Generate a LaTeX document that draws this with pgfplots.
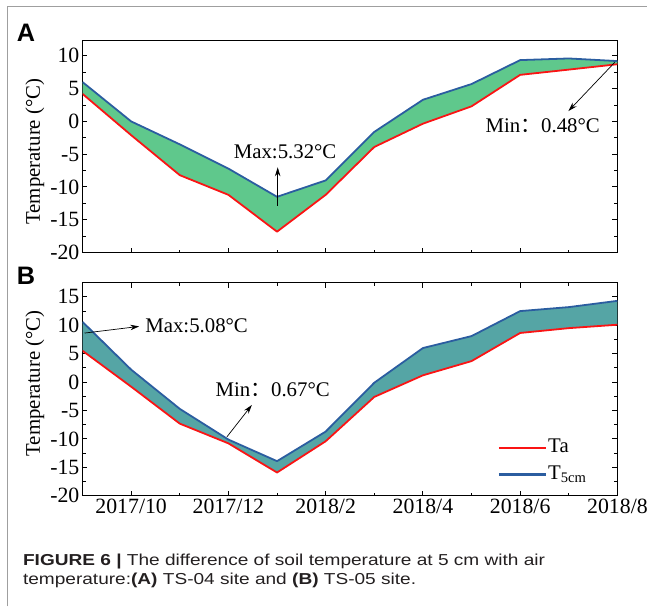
\documentclass[border=0pt]{standalone}
\usepackage{fontspec}
\setmainfont{Liberation Serif}
\newfontfamily\capfont{Liberation Sans}
\newfontfamily\cjk{Noto Sans CJK SC}
\usepackage{graphicx}
\usepackage{pgfplots}
\usepackage{pgfplotstable}
\pgfplotsset{compat=1.18}
\usepgfplotslibrary{fillbetween}
\usetikzlibrary{arrows.meta}

\definecolor{tred}{RGB}{250,20,20}
\definecolor{tblue}{RGB}{43,93,160}
\definecolor{fillA}{RGB}{95,200,140}
\definecolor{fillB}{RGB}{85,165,165}
\definecolor{capcol}{RGB}{35,31,32}

\pgfplotstableread{
x a t
0 4.2 6.0
1 -2.1 0.0
2 -8.2 -3.5
3 -11.2 -7.2
4 -16.82 -11.5
5 -11.2 -9.0
6 -3.9 -1.6
7 -0.35 3.3
8 2.3 5.7
9 7.1 9.35
10 7.9 9.6
11 8.72 9.2
}\dataA

\pgfplotstableread{
x a t
0 5.52 10.6
1 -0.8 2.2
2 -7.3 -4.7
3 -10.77 -10.1
4 -15.9 -13.9
5 -10.4 -8.7
6 -2.6 -0.1
7 1.2 6.0
8 3.7 8.1
9 8.65 12.5
10 9.5 13.2
11 10.1 14.3
}\dataB

\pgfplotsset{myaxis/.style={
  scale only axis, width=538bp, xmin=0, xmax=11,
  xtick={1,3,5,7,9,11}, minor xtick={0,2,4,6,8,10},
  minor y tick num=1,
  tick align=inside,
  major tick length=5bp, minor tick length=3bp,
  axis line style={line width=1.3bp},
  every tick/.style={black, line width=1bp},
  tick label style={font=\fontsize{22}{24}\selectfont},
  /pgf/number format/assume math mode=true,
  ylabel={Temperature (°C)},
  ylabel style={font=\fontsize{21}{24}\selectfont, at={(axis description cs:0,0.5)}, anchor=center, yshift=48bp},
  yticklabel style={inner sep=0pt, xshift=-3bp},
  line join=round,
}}

\newsavebox\capone
\newsavebox\captwo

\begin{document}
\sbox\capone{\capfont\fontsize{16}{19}\selectfont\color{capcol}\textbf{FIGURE 6 |} The difference of soil temperature at 5 cm with air}%
\sbox\captwo{\capfont\fontsize{16}{19}\selectfont\color{capcol}temperature:\textbf{(A)} TS-04 site and \textbf{(B)} TS-05 site.}%
\pgfmathsetmacro\capscale{526.97/\the\wd\capone}%
\begin{tikzpicture}
\draw[gray!75, line width=1.2bp] (7.5bp,0) -- (7.5bp,603.5bp) -- (651bp,603.5bp);

% Panel A
\begin{axis}[myaxis, at={(83bp,356bp)}, anchor=south west, height=213bp,
  ymin=-20, ymax=12.3, ytick={-20,-15,...,10}, xticklabels={},
  xtick pos=lower, ylabel style={xshift=-5bp}]
\addplot[name path=T, draw=none, forget plot] table[x=x,y=t]{\dataA};
\addplot[name path=A, draw=none, forget plot] table[x=x,y=a]{\dataA};
\addplot[fill=fillA, draw=none, forget plot] fill between[of=T and A];
\addplot[tred, line width=1.8bp, forget plot] table[x=x,y=a]{\dataA};
\addplot[tblue, line width=1.8bp, forget plot] table[x=x,y=t]{\dataA};
\end{axis}

% Panel B
\begin{axis}[myaxis, at={(83bp,111.3bp)}, anchor=south west, height=214.4bp,
  ymin=-20, ymax=17.5, ytick={-20,-15,...,15},
  ylabel style={xshift=6bp},
  xticklabels={2017/10,2017/12,2018/2,2018/4,2018/6,2018/8},
  legend style={draw=none, fill=none, font=\fontsize{21}{24}\selectfont,
    at={(axis description cs:0.776,0.290)}, anchor=north west, inner sep=0pt,
    nodes={inner sep=1.5bp, text height=17bp, text depth=7bp}},
  legend cell align=left,
  legend image code/.code={\draw[#1, line width=2.2bp] (0bp,0bp) -- (47bp,0bp);}]
\addplot[name path=T, draw=none, forget plot] table[x=x,y=t]{\dataB};
\addplot[name path=A, draw=none, forget plot] table[x=x,y=a]{\dataB};
\addplot[fill=fillB, draw=none, forget plot] fill between[of=T and A];
\addplot[tred, line width=1.8bp] table[x=x,y=a]{\dataB};
\addplot[tblue, line width=1.8bp] table[x=x,y=t]{\dataB};
\legend{Ta, T\textsubscript{5cm}}
\end{axis}

% annotations
\tikzset{ann/.style={-{Stealth[length=9bp,width=5.5bp]}, line width=0.7bp, black}}
\draw[ann] (279.3bp,403.3bp) -- (279.3bp,441.7bp);
\node[anchor=base west, inner sep=0pt, font=\fontsize{21}{24}\selectfont] at (235bp,450.7bp) {Max:5.32°C};
\draw[ann] (618.3bp,547.3bp) -- (571.7bp,498.3bp);
\node[anchor=base west, inner sep=0pt, font=\fontsize{21}{24}\selectfont] at (488.3bp,476.7bp) {Min{\cjk ：}0.48°C};
\draw[ann] (85bp,275bp) -- (140bp,281.7bp);
\node[anchor=base west, inner sep=0pt, font=\fontsize{21}{24}\selectfont] at (146bp,276bp) {Max:5.08°C};
\draw[ann] (228.3bp,170.7bp) -- (253.3bp,202.7bp);
\node[anchor=base west, inner sep=0pt, font=\fontsize{21}{24}\selectfont] at (216.7bp,211.7bp) {Min{\cjk ：}0.67°C};

% panel letters
\node[anchor=base west, inner sep=0pt] at (16.7bp,568.3bp) {\capfont\bfseries\fontsize{25.5}{28}\selectfont A};
\node[anchor=base west, inner sep=0pt] at (16.7bp,324bp) {\capfont\bfseries\fontsize{25.5}{28}\selectfont B};

% caption
\node[anchor=base west, inner sep=0pt] at (23bp,41bp) {\scalebox{\capscale}[1]{\usebox\capone}};
\node[anchor=base west, inner sep=0pt] at (23bp,22bp) {\scalebox{\capscale}[1]{\usebox\captwo}};
\path (0,0) rectangle (651bp,610bp);
\end{tikzpicture}
\end{document}
